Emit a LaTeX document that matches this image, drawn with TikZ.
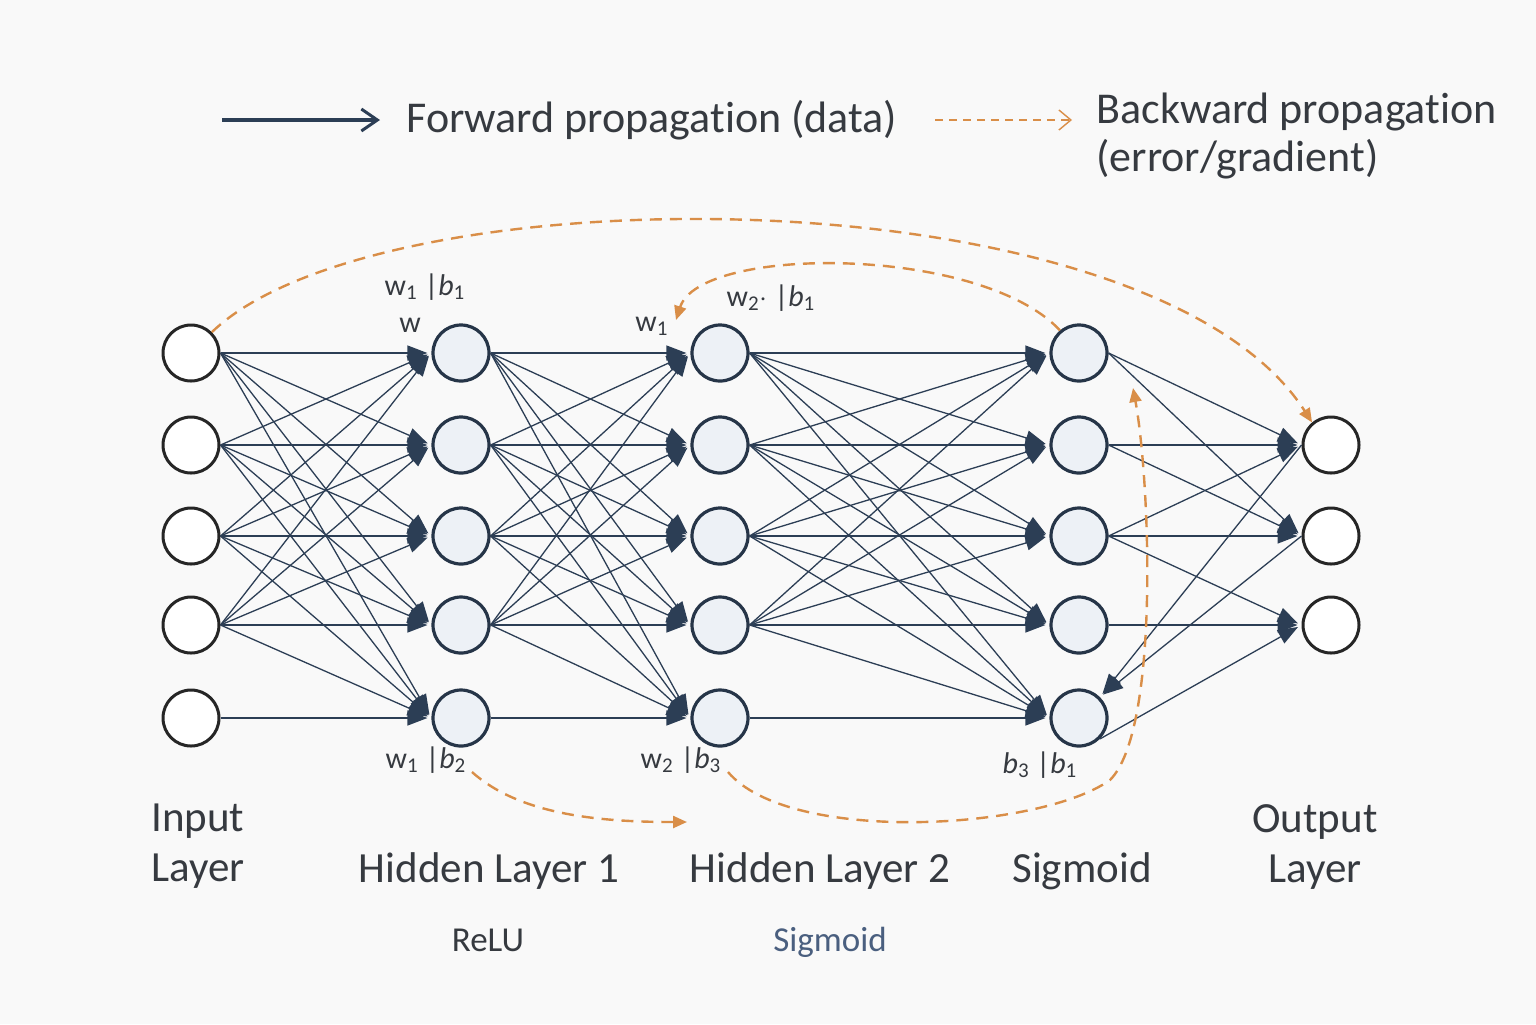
\documentclass[tikz,border=0pt]{standalone}
\usepackage{fontspec}
\setmainfont[Ligatures={NoCommon,NoContextual},Contextuals=NoAlternate]{Carlito}
\usetikzlibrary{arrows.meta}
\definecolor{navy}{HTML}{2C3E55}
\definecolor{nodeborder}{HTML}{263548}
\definecolor{nodefill}{HTML}{EDF1F6}
\definecolor{orng}{HTML}{D98E48}
\definecolor{txt}{HTML}{363A40}
\definecolor{bluetxt}{HTML}{4A5F7F}
\definecolor{bg}{HTML}{F9F9F9}
\tikzset{
  inout/.style={circle,draw=black!85,line width=1.5pt,fill=white,minimum size=28pt,inner sep=0pt},
  hid/.style={circle,draw=nodeborder,line width=1.6pt,fill=nodefill,minimum size=28pt,inner sep=0pt},
  fwd/.style={draw=navy,line width=0.65pt,-{Triangle[length=10pt,width=7.5pt]},shorten >=2pt},
  bwd/.style={draw=orng,line width=1.2pt,dash pattern=on 6pt off 4pt,-{Triangle[length=7pt,width=6pt]}},
  lbl/.style={text=txt,font=\fontsize{21.5}{25}\selectfont,inner sep=0pt},
  small/.style={text=txt,font=\fontsize{15}{17}\selectfont,inner sep=0pt},
}
\begin{document}
\begin{tikzpicture}[x=0.5pt,y=-0.5pt]
\fill[bg] (0,0) rectangle (1536,1024);
\useasboundingbox (0,0) rectangle (1536,1024);

% legend
\coordinate (lf1) at (222,120);
\coordinate (lf2) at (380,120);
\draw[navy,line width=1.8pt,-{Straight Barb[length=8pt,width=11pt,line width=1.5pt]}] (lf1) -- (lf2);
\node[lbl,anchor=west,font=\fontsize{22}{26}\selectfont] (legf) at (406,120) {Forward propagation (data)};
\coordinate (lb1) at (935,120);
\coordinate (lb2) at (1072,120);
\draw[orng,line width=0.7pt,dash pattern=on 4pt off 3pt,-{Straight Barb[length=6pt,width=10pt,line width=0.7pt]}] (lb1) -- (lb2);
\node[lbl,anchor=north west,align=left,font=\fontsize{22}{24}\selectfont] (legb) at (1096,93) {Backward propagation\\(error/gradient)};

% nodes
\foreach \k/\y in {1/353,2/445,3/536,4/625,5/718}{
  \node[inout] (i\k) at (191,\y) {};
  \node[hid] (a\k) at (461,\y) {};
  \node[hid] (b\k) at (720,\y) {};
  \node[hid] (c\k) at (1079,\y) {};
}
\foreach \k/\y in {1/445,2/536,3/625}{
  \node[inout] (o\k) at (1331,\y) {};
}

% forward connections
\foreach \s in {1,...,4}{
  \foreach \t in {1,...,5}{
    \draw[fwd] (i\s.east) -- (a\t.west);
    \draw[fwd] (a\s.east) -- (b\t.west);
    \draw[fwd] (b\s.east) -- (c\t.west);
  }
}
\draw[fwd] (i5.east) -- (a5.west);
\draw[fwd] (a5.east) -- (b5.west);
\draw[fwd] (b5.east) -- (c5.west);
\draw[fwd] (c1.east) -- (o1.west);
\draw[fwd] (c1.east) -- (o2.west);
\draw[fwd] (c2.east) -- (o1.west);
\draw[fwd] (c2.east) -- (o2.west);
\draw[fwd] (c3.east) -- (o1.west);
\draw[fwd] (c3.east) -- (o2.west);
\draw[fwd] (c3.east) -- (o3.west);
\draw[fwd] (c4.east) -- (o3.west);
\draw[fwd] (c5.south east) -- (o3.west);
\draw[fwd] (o1.west) -- (c5.north east);
\draw[fwd] (o2.west) -- (c5.north east);

% backward arcs
\draw[bwd] (i1.45) .. controls (380,170) and (1150,170) .. (o1.130);
\coordinate (b1e) at (676,320);
\draw[bwd] (c1.130) .. controls (980,245) and (700,245) .. (b1e);
\coordinate (h1s) at (472,772);
\coordinate (h1e) at (687,822);
\draw[bwd] (h1s) .. controls (520,815) and (600,822) .. (h1e);
\coordinate (h2s) at (728,772);
\coordinate (h2m) at (1110,780);
\coordinate (h2e) at (1133,388);
\draw[bwd] (h2s) .. controls (790,845) and (1040,830) .. (h2m) .. controls (1160,730) and (1150,480) .. (h2e);

% small labels
\node[small] (l1) at (425,287) {w\textsubscript{1} |\textit{b}\textsubscript{1}};
\node[small] (l2) at (410,325) {w};
\node[small] (l3) at (652,326) {w\textsubscript{1}};
\node[small] (l4) at (771,298) {w\textsubscript{2}$\cdot$ |\textit{b}\textsubscript{1}};
\node[small] (l5) at (426,760) {w\textsubscript{1} |\textit{b}\textsubscript{2}};
\node[small] (l6) at (681,760) {w\textsubscript{2} |\textit{b}\textsubscript{3}};
\node[small] (l7) at (1040,765) {\textit{b}\textsubscript{3} |\textit{b}\textsubscript{1}};

% layer labels
\node[lbl,anchor=west,align=left] (tin) at (151,846) {Input\\Layer};
\node[lbl] (th1) at (489,871) {Hidden Layer 1};
\node[lbl] (th2) at (820,871) {Hidden Layer 2};
\node[lbl] (tsg) at (1082,871) {Sigmoid};
\node[lbl,align=center] (tout) at (1315,847) {Output\\Layer};
\node[text=txt,font=\fontsize{17.5}{20}\selectfont] (trelu) at (488,940) {ReLU};
\node[text=bluetxt,font=\fontsize{17.5}{20}\selectfont] (tsig2) at (830,942) {Sigmoid};
\end{tikzpicture}
\end{document}
